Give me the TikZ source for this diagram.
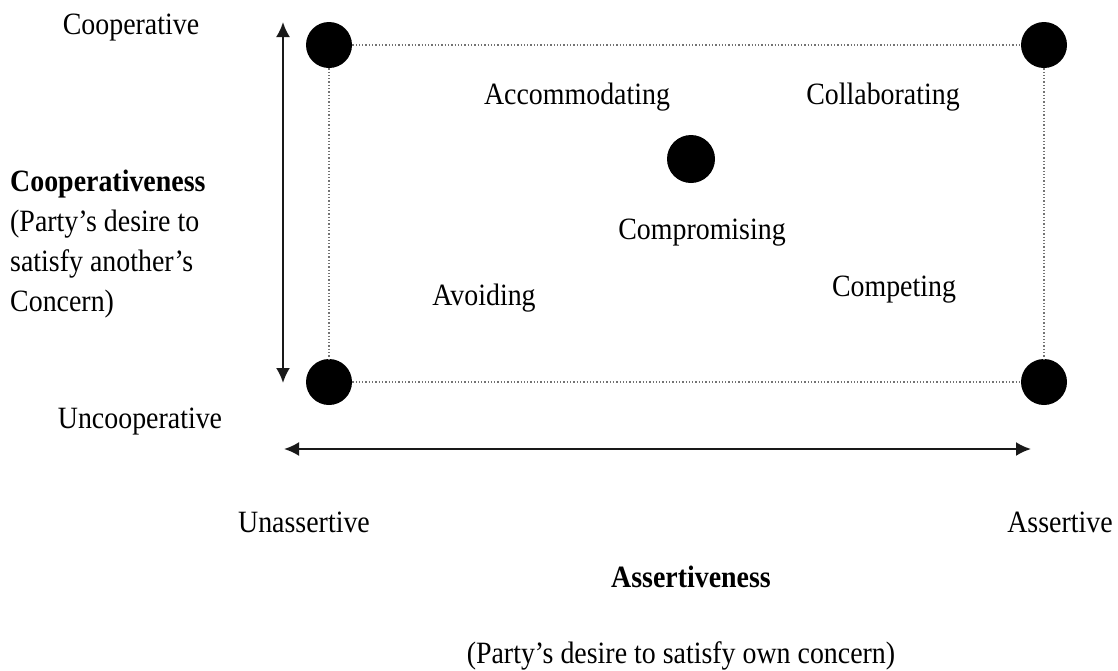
\documentclass[tikz,border=0pt]{standalone}
\usepackage{fontspec}
\setmainfont{Liberation Serif}[FakeStretch=0.9]
\usetikzlibrary{arrows.meta}
\begin{document}
\begin{tikzpicture}[x=1pt,y=-1pt,
  bullet/.style={circle,fill=black,inner sep=0pt,minimum size=46pt},
  lbl/.style={inner sep=0pt,font=\fontsize{31}{40}\selectfont},
  frame/.style={draw=black!55,dotted,line width=1.3pt},
  axis/.style={draw=black!90,line width=2.2pt,{Latex[length=15pt,width=14pt]}-{Latex[length=15pt,width=14pt]}}]
\useasboundingbox (0,0) rectangle (1118,670);
% bullets
\node[bullet] (tl) at (329,45) {};
\node[bullet] (tr) at (1044,45) {};
\node[bullet] (bl) at (329,382) {};
\node[bullet] (br) at (1044,382) {};
\node[bullet,minimum size=48pt] (c) at (691,159) {};
% dotted frame
\draw[frame] (tl.east) -- (tr.west);
\draw[frame] (bl.east) -- (br.west);
\draw[frame] (tl.south) -- (bl.north);
\draw[frame] (tr.south) -- (br.north);
% axes
\coordinate (vt) at (283,22);
\coordinate (vb) at (283,383);
\coordinate (hl) at (284,449);
\coordinate (hr) at (1031,449);
\draw[axis] (vt) -- (vb);
\draw[axis] (hl) -- (hr);
% labels
\node[lbl] (coop) at (131,28) {Cooperative};
\node[lbl,anchor=north west,align=left] (coopn) at (10,170) {\textbf{Cooperativeness}\\(Party’s desire to\\satisfy another’s\\Concern)};
\node[lbl] (uncoop) at (140,422) {Uncooperative};
\node[lbl] (acc) at (577,97) {Accommodating};
\node[lbl] (col) at (883,97) {Collaborating};
\node[lbl] (comp) at (702,233) {Compromising};
\node[lbl] (avo) at (484,298) {Avoiding};
\node[lbl] (cpt) at (894,290) {Competing};
\node[lbl] (unas) at (304,522) {Unassertive};
\node[lbl] (as) at (1060,522) {Assertive};
\node[lbl] (asn) at (691,577) {\textbf{Assertiveness}};
\node[lbl] (own) at (681,656) {(Party’s desire to satisfy own concern)};
\end{tikzpicture}
\end{document}
